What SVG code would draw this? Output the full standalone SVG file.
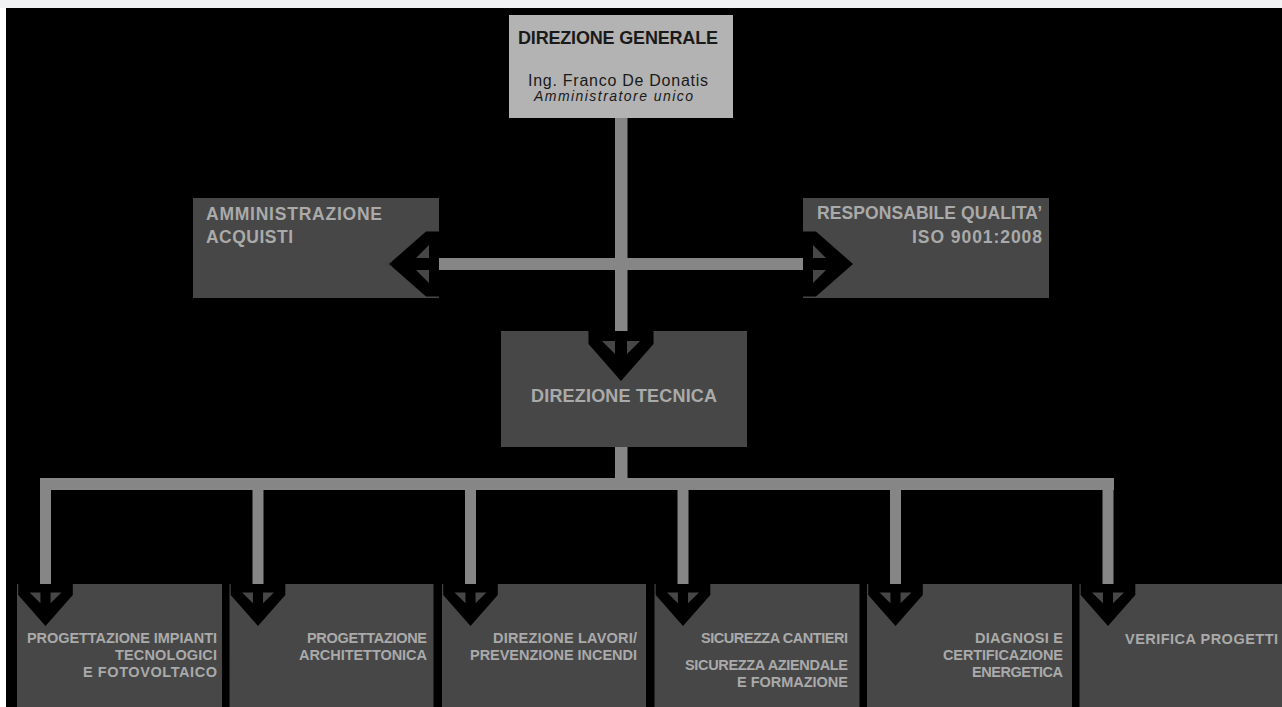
<svg xmlns="http://www.w3.org/2000/svg" width="1282" height="707" viewBox="0 0 1282 707">
<defs>
<style>
.bg{fill:#000}
.box{fill:#474747}
.top{fill:#b3b3b3}
.ln{fill:#868686}
.arr{fill:#000;fill-rule:evenodd}
.t{font-family:"Liberation Sans",Arial,sans-serif;font-weight:bold;fill:#aaaaaa}
.tb{font-family:"Liberation Sans",Arial,sans-serif;fill:#1a1a1a}
</style>
<path id="ah" d="M-32.5,0 H32.5 V13 L0,50 L-32.5,13 Z M-19,10 H-6 V23 Z M19,10 H6 V23 Z"/>
</defs>
<rect x="0" y="0" width="1282" height="707" fill="#ffffff"/>
<rect x="0" y="0" width="1282" height="8" fill="#f1f2f4"/>
<rect class="bg" x="6" y="8" width="1276" height="699"/>

<g id="connectors">
<rect class="ln" x="615" y="118" width="12.5" height="214"/>
<rect class="ln" x="439" y="258" width="364" height="12"/>
<rect class="ln" x="615" y="446" width="12.5" height="36"/>
<rect class="ln" x="40" y="478" width="1074" height="12"/>
<rect class="ln" x="40" y="478" width="11" height="107"/>
<rect class="ln" x="252.5" y="478" width="11" height="107"/>
<rect class="ln" x="465" y="478" width="11" height="107"/>
<rect class="ln" x="677.5" y="478" width="11" height="107"/>
<rect class="ln" x="890" y="478" width="11" height="107"/>
<rect class="ln" x="1102.5" y="478" width="11" height="107"/>
</g>

<g id="n-direzione-generale">
<rect class="top" x="509" y="15" width="224" height="103"/>
<text class="tb" x="618" y="44" text-anchor="middle" font-size="18" font-weight="bold" textLength="200">DIREZIONE GENERALE</text>
<text class="tb" x="618" y="86" text-anchor="middle" font-size="16" textLength="180">Ing. Franco De Donatis</text>
<text class="tb" x="613.5" y="101" text-anchor="middle" font-size="14" font-style="italic" textLength="159">Amministratore unico</text>
</g>

<g id="n-amministrazione">
<rect class="box" x="193" y="198" width="246" height="100"/>
<text class="t" x="206" y="220" font-size="17.5" textLength="176">AMMINISTRAZIONE</text>
<text class="t" x="206" y="243" font-size="17.5" textLength="87">ACQUISTI</text>
<use href="#ah" class="arr" transform="translate(439,264) rotate(90)"/>
</g>

<g id="n-qualita">
<rect class="box" x="803" y="198" width="246" height="100"/>
<text class="t" x="1042" y="219" font-size="17.5" text-anchor="end" textLength="225">RESPONSABILE QUALITA’</text>
<text class="t" x="1042" y="243" font-size="17.5" text-anchor="end" textLength="130">ISO 9001:2008</text>
<use href="#ah" class="arr" transform="translate(803,264) rotate(-90)"/>
</g>

<g id="n-direzione-tecnica">
<rect class="box" x="501" y="331" width="246" height="116"/>
<text class="t" x="624" y="402" font-size="18" text-anchor="middle" textLength="186">DIREZIONE TECNICA</text>
<use href="#ah" class="arr" transform="translate(621,331)"/>
</g>

<g id="n-impianti">
<rect class="box" x="17" y="584" width="205" height="123"/>
<use href="#ah" class="arr" transform="translate(45.5,584) scale(0.84)"/>
<text class="t" x="217" y="643" font-size="14.5" text-anchor="end" textLength="190">PROGETTAZIONE IMPIANTI</text>
<text class="t" x="217" y="660" font-size="14.5" text-anchor="end" textLength="102">TECNOLOGICI</text>
<text class="t" x="217" y="677" font-size="14.5" text-anchor="end" textLength="134">E FOTOVOLTAICO</text>
</g>

<g id="n-architettonica">
<rect class="box" x="229.5" y="584" width="204" height="123"/>
<use href="#ah" class="arr" transform="translate(258,584) scale(0.84)"/>
<text class="t" x="427" y="643" font-size="14.5" text-anchor="end" textLength="120">PROGETTAZIONE</text>
<text class="t" x="427" y="660" font-size="14.5" text-anchor="end" textLength="128">ARCHITETTONICA</text>
</g>

<g id="n-lavori">
<rect class="box" x="442" y="584" width="204" height="123"/>
<use href="#ah" class="arr" transform="translate(470.5,584) scale(0.84)"/>
<text class="t" x="637" y="643" font-size="14.5" text-anchor="end" textLength="144">DIREZIONE LAVORI/</text>
<text class="t" x="637" y="660" font-size="14.5" text-anchor="end" textLength="167">PREVENZIONE INCENDI</text>
</g>

<g id="n-sicurezza">
<rect class="box" x="654.5" y="584" width="205" height="123"/>
<use href="#ah" class="arr" transform="translate(683,584) scale(0.84)"/>
<text class="t" x="848" y="643" font-size="14.5" text-anchor="end" textLength="147">SICUREZZA CANTIERI</text>
<text class="t" x="848" y="670" font-size="14.5" text-anchor="end" textLength="163">SICUREZZA AZIENDALE</text>
<text class="t" x="848" y="687" font-size="14.5" text-anchor="end" textLength="111">E FORMAZIONE</text>
</g>

<g id="n-diagnosi">
<rect class="box" x="867" y="584" width="205" height="123"/>
<use href="#ah" class="arr" transform="translate(895.5,584) scale(0.84)"/>
<text class="t" x="1063" y="643" font-size="14.5" text-anchor="end" textLength="88">DIAGNOSI E</text>
<text class="t" x="1063" y="660" font-size="14.5" text-anchor="end" textLength="120">CERTIFICAZIONE</text>
<text class="t" x="1063" y="677" font-size="14.5" text-anchor="end" textLength="91">ENERGETICA</text>
</g>

<g id="n-verifica">
<rect class="box" x="1079.5" y="584" width="203" height="123"/>
<use href="#ah" class="arr" transform="translate(1108,584) scale(0.84)"/>
<text class="t" x="1278" y="644" font-size="14.5" text-anchor="end" textLength="153">VERIFICA PROGETTI</text>
</g>
</svg>
